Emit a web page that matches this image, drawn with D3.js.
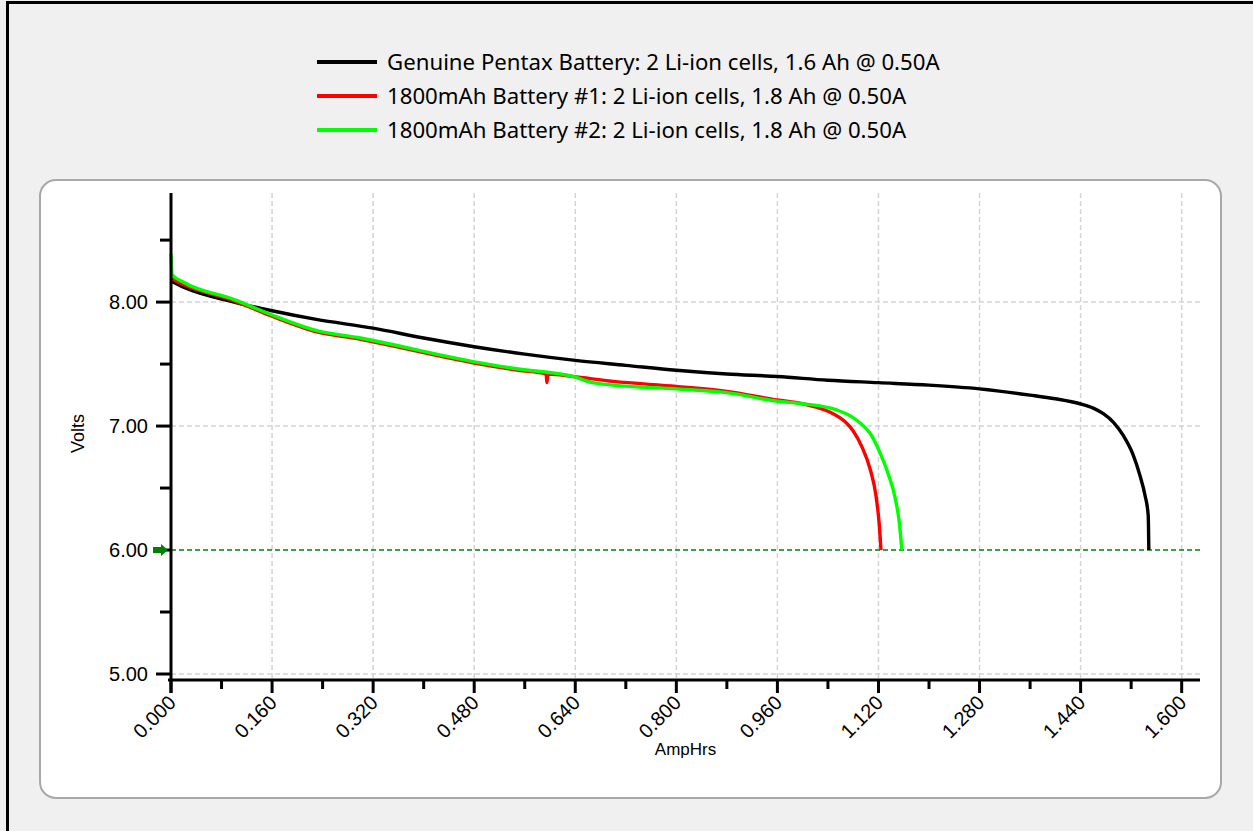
<!DOCTYPE html>
<html>
<head>
<meta charset="utf-8">
<script src="https://cdn.jsdelivr.net/npm/d3@7"></script>
<style>
  html, body { margin: 0; padding: 0; background: #f0f0f0; }
  svg { display: block; }
  .tick-label { font-family: "Liberation Sans", Arial, sans-serif; font-size: 20px; fill: #000; }
  .legend-text { font-family: "Noto Sans", "Open Sans", sans-serif; font-size: 20px; fill: #000; }
  .axis-title { font-family: "Liberation Sans", Arial, sans-serif; font-size: 17px; fill: #000; }
</style>
</head>
<body>
<svg id="chart" width="1253" height="831"></svg>
<script>
// [AmpHrs, Volts]
var genuine = [
  [0, 8.17], [0.02, 8.12], [0.10, 8.00], [0.16, 7.93], [0.23, 7.86], [0.32, 7.79],
  [0.40, 7.71], [0.48, 7.64], [0.56, 7.58], [0.64, 7.53], [0.72, 7.49], [0.80, 7.45],
  [0.88, 7.42], [0.96, 7.40], [1.04, 7.37], [1.12, 7.35], [1.20, 7.33], [1.28, 7.30],
  [1.36, 7.25], [1.40, 7.22], [1.439, 7.18], [1.46, 7.145], [1.476, 7.10], [1.492, 7.03],
  [1.508, 6.92], [1.523, 6.77], [1.534, 6.60], [1.542, 6.44], [1.547, 6.28], [1.548, 6.00]
];
var battery1 = [
  [0, 8.19], [0.02, 8.14], [0.10, 8.01], [0.158, 7.89], [0.231, 7.76], [0.30, 7.70],
  [0.358, 7.64], [0.42, 7.57], [0.478, 7.51], [0.55, 7.45], [0.594, 7.42], [0.595, 7.35],
  [0.597, 7.42], [0.636, 7.40], [0.70, 7.36], [0.80, 7.32], [0.88, 7.28], [0.96, 7.21],
  [1.00, 7.18], [1.023, 7.15], [1.048, 7.10], [1.066, 7.04], [1.080, 6.96], [1.094, 6.83],
  [1.107, 6.65], [1.116, 6.44], [1.121, 6.22], [1.124, 6.00]
];
var battery2 = [
  [0, 8.39], [0.002, 8.22], [0.02, 8.16], [0.10, 8.02], [0.158, 7.90], [0.231, 7.77],
  [0.30, 7.71], [0.358, 7.65], [0.42, 7.58], [0.478, 7.52], [0.55, 7.46], [0.636, 7.40],
  [0.668, 7.35], [0.70, 7.33], [0.80, 7.30], [0.88, 7.27], [0.96, 7.20], [1.00, 7.18],
  [1.054, 7.13], [1.076, 7.08], [1.092, 7.02], [1.107, 6.94], [1.122, 6.79], [1.135, 6.62],
  [1.146, 6.43], [1.153, 6.22], [1.157, 6.00]
];
var seriesNames = [
  "Genuine Pentax Battery: 2 Li-ion cells, 1.6 Ah @ 0.50A",
  "1800mAh Battery #1: 2 Li-ion cells, 1.8 Ah @ 0.50A",
  "1800mAh Battery #2: 2 Li-ion cells, 1.8 Ah @ 0.50A"
];
var seriesColors = ["#000000", "#ff0000", "#00ff00"];
var xTicks = [0, 0.16, 0.32, 0.48, 0.64, 0.80, 0.96, 1.12, 1.28, 1.44, 1.60];
var xMinorTicks = [0.08, 0.24, 0.40, 0.56, 0.72, 0.88, 1.04, 1.20, 1.36, 1.52];
var yTicks = [5, 6, 7, 8];
var yMinorTicks = [5.5, 6.5, 7.5, 8.5];
var cutoffVolts = 6.00;

var svg = d3.select("#chart"),
  allSeries = [genuine, battery1, battery2],
  x = d3.scaleLinear().domain([0, 1.629]).range([171, 1200]),
  y = d3.scaleLinear().domain([5, 8.88]).range([674, 193]),
  axisY = 680,
  line = d3.line()
    .curve(d3.curveMonotoneX)
    .x(function(d) { return x(d[0]); })
    .y(function(d) { return y(d[1]); });

// outer frame
svg.append("rect")
  .attr("x", 0).attr("y", 0)
  .attr("width", 1253).attr("height", 831)
  .attr("fill", "#f0f0f0");
svg.append("path")
  .attr("d", "M7.5,831V2.5H1253")
  .attr("fill", "none")
  .attr("stroke", "#000")
  .attr("stroke-width", 3);

// legend
var legend = svg.append("g").attr("class", "legend"),
  legendTexts = [];
seriesNames.forEach(function(name, i) {
  var ly = 62 + i * 34;
  legend.append("line")
    .attr("x1", 317).attr("x2", 377)
    .attr("y1", ly).attr("y2", ly)
    .attr("stroke", seriesColors[i])
    .attr("stroke-width", 4);
  legendTexts.push(legend.append("text")
    .attr("class", "legend-text")
    .attr("x", 387)
    .attr("y", ly)
    .attr("dy", "0.35em")
    .text(name));
});
// fit legend font so the first entry spans like the original
var firstLen = legendTexts[0].node().getComputedTextLength();
if (firstLen > 0) {
  var fs = 20 * 553 / firstLen;
  legendTexts.forEach(function(t) { t.style("font-size", fs + "px"); });
}

// plot panel
svg.append("rect")
  .attr("x", 40).attr("y", 180)
  .attr("width", 1181).attr("height", 618)
  .attr("rx", 16).attr("ry", 16)
  .attr("fill", "#fff")
  .attr("stroke", "#a8a8a8")
  .attr("stroke-width", 2);

// grid
var grid = svg.append("g").attr("class", "grid");
grid.selectAll(".vgrid")
  .data(xTicks.slice(1))
  .enter()
  .append("line")
    .attr("x1", function(d) { return x(d); })
    .attr("x2", function(d) { return x(d); })
    .attr("y1", y.range()[1])
    .attr("y2", axisY)
    .attr("stroke", "#d4d4d4")
    .attr("stroke-width", 1.5)
    .attr("stroke-dasharray", "5,3");
grid.selectAll(".hgrid")
  .data(yTicks.filter(function(d) { return d !== cutoffVolts; }))
  .enter()
  .append("line")
    .attr("x1", x(0))
    .attr("x2", x.range()[1])
    .attr("y1", function(d) { return y(d); })
    .attr("y2", function(d) { return y(d); })
    .attr("stroke", "#d4d4d4")
    .attr("stroke-width", 1.5)
    .attr("stroke-dasharray", "5,3");

// cutoff line
svg.append("line")
  .attr("x1", x(0))
  .attr("x2", x.range()[1])
  .attr("y1", y(cutoffVolts))
  .attr("y2", y(cutoffVolts))
  .attr("stroke", "#008000")
  .attr("stroke-width", 1.5)
  .attr("stroke-dasharray", "5,3");

// data lines
svg.append("g")
  .attr("class", "data")
  .selectAll("path")
  .data(allSeries)
  .enter()
  .append("path")
    .attr("fill", "none")
    .attr("stroke", function(d, i) { return seriesColors[i]; })
    .attr("stroke-width", 3.4)
    .attr("stroke-linejoin", "round")
    .attr("d", line);

// y axis
var yAxis = svg.append("g").attr("class", "y axis");
yAxis.append("line")
  .attr("x1", x(0)).attr("x2", x(0))
  .attr("y1", y.range()[1]).attr("y2", axisY + 13)
  .attr("stroke", "#000")
  .attr("stroke-width", 3);
yAxis.selectAll(".major")
  .data(yTicks)
  .enter()
  .append("line")
    .attr("x1", x(0) - 15).attr("x2", x(0))
    .attr("y1", function(d) { return y(d); })
    .attr("y2", function(d) { return y(d); })
    .attr("stroke", "#000")
    .attr("stroke-width", 3);
yAxis.selectAll(".minor")
  .data(yMinorTicks)
  .enter()
  .append("line")
    .attr("x1", x(0) - 11).attr("x2", x(0))
    .attr("y1", function(d) { return y(d); })
    .attr("y2", function(d) { return y(d); })
    .attr("stroke", "#000")
    .attr("stroke-width", 3);
yAxis.selectAll("text")
  .data(yTicks)
  .enter()
  .append("text")
    .attr("class", "tick-label")
    .attr("x", x(0) - 23)
    .attr("y", function(d) { return y(d); })
    .attr("dy", "0.36em")
    .attr("text-anchor", "end")
    .text(d3.format(".2f"));

// cutoff marker arrow
var ay = y(cutoffVolts);
svg.append("path")
  .attr("d", "M153," + (ay - 3) + "H161V" + (ay - 6) + "L168," + ay + "L161," + (ay + 6) + "V" + (ay + 3) + "H153Z")
  .attr("fill", "#008000");

// x axis
var xAxis = svg.append("g").attr("class", "x axis");
xAxis.append("line")
  .attr("x1", x(0) - 3).attr("x2", x.range()[1])
  .attr("y1", axisY).attr("y2", axisY)
  .attr("stroke", "#000")
  .attr("stroke-width", 3);
xAxis.selectAll(".major")
  .data(xTicks)
  .enter()
  .append("line")
    .attr("x1", function(d) { return x(d); })
    .attr("x2", function(d) { return x(d); })
    .attr("y1", axisY).attr("y2", axisY + 13)
    .attr("stroke", "#000")
    .attr("stroke-width", 3);
xAxis.selectAll(".minor")
  .data(xMinorTicks)
  .enter()
  .append("line")
    .attr("x1", function(d) { return x(d); })
    .attr("x2", function(d) { return x(d); })
    .attr("y1", axisY).attr("y2", axisY + 9)
    .attr("stroke", "#000")
    .attr("stroke-width", 3);
xAxis.selectAll("text")
  .data(xTicks)
  .enter()
  .append("text")
    .attr("class", "tick-label")
    .attr("text-anchor", "end")
    .attr("transform", function(d) {
      return "translate(" + (x(d) + 6) + "," + (axisY + 24) + ") rotate(-45)";
    })
    .text(d3.format(".3f"));

// axis titles
svg.append("text")
  .attr("class", "axis-title")
  .attr("text-anchor", "middle")
  .style("font-size", "18px")
  .attr("transform", "translate(84," + ((y.range()[0] + y.range()[1]) / 2) + ") rotate(-90)")
  .text("Volts");
svg.append("text")
  .attr("class", "axis-title")
  .attr("text-anchor", "middle")
  .attr("x", (x.range()[0] + x.range()[1]) / 2)
  .attr("y", 755)
  .text("AmpHrs");
</script>
</body>
</html>
